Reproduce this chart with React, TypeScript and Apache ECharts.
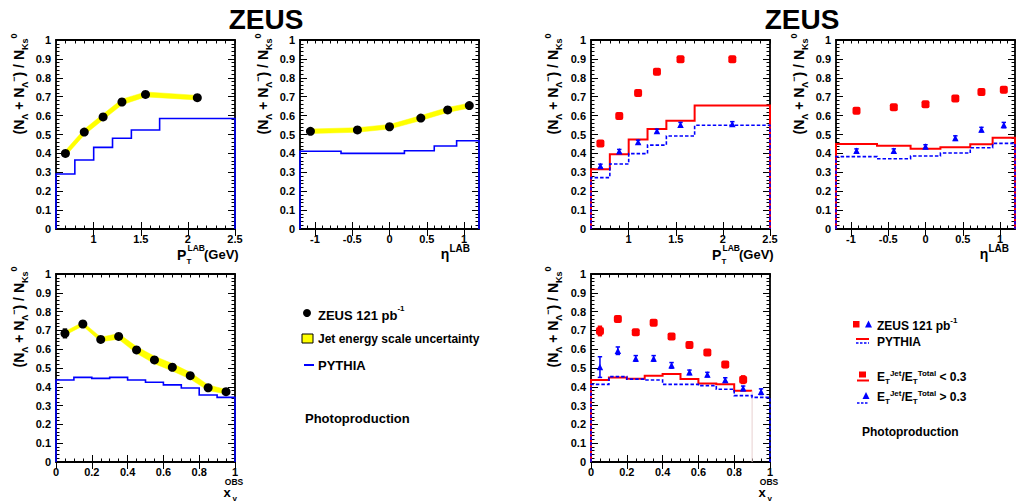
import React, { useEffect, useRef } from 'react';
import * as echarts from 'echarts';

const FONT = '"Liberation Sans", Arial, Helvetica, sans-serif';

// ---------- Panel 1: pT (inclusive) ----------
const ptEdges = [0.6, 0.8, 1.0, 1.2, 1.4, 1.7, 2.5];
const ptCenters = [0.7, 0.9, 1.1, 1.3, 1.55, 2.1];
const ptZeus = [0.4, 0.513, 0.593, 0.672, 0.712, 0.695];
const ptZeusErr = [0.01, 0.01, 0.01, 0.01, 0.01, 0.01];
const ptJes = [0.015, 0.015, 0.015, 0.015, 0.013, 0.012];
const ptPythia = [0.291, 0.365, 0.432, 0.48, 0.524, 0.585];

// ---------- Panel 2: eta (inclusive) ----------
const etaEdges = [-1.2, -0.65, -0.2, 0.2, 0.6, 0.9, 1.2];
const etaCentersIncl = [-1.06, -0.43, 0.0, 0.42, 0.78, 1.07];
const etaZeus = [0.517, 0.524, 0.541, 0.587, 0.63, 0.653];
const etaZeusErr = [0.01, 0.01, 0.01, 0.01, 0.01, 0.01];
const etaJes = [0.012, 0.012, 0.012, 0.013, 0.013, 0.013];
const etaPythia = [0.411, 0.4, 0.4, 0.414, 0.439, 0.467];

// ---------- Panel 3: x_gamma (inclusive) ----------
const xgEdges = [0, 0.1, 0.2, 0.3, 0.4, 0.5, 0.6, 0.7, 0.8, 0.9, 1.0];
const xgCenters = [0.05, 0.15, 0.25, 0.35, 0.45, 0.55, 0.65, 0.75, 0.85, 0.95];
const xgZeus = [0.684, 0.734, 0.652, 0.668, 0.596, 0.543, 0.504, 0.459, 0.395, 0.374];
const xgZeusErr = [0.023, 0.012, 0.01, 0.01, 0.01, 0.01, 0.01, 0.01, 0.01, 0.012];
const xgJes = [0.01, 0.01, 0.012, 0.015, 0.018, 0.02, 0.02, 0.018, 0.015, 0.012];
const xgPythia = [0.436, 0.45, 0.445, 0.45, 0.436, 0.424, 0.41, 0.394, 0.356, 0.344];

// ---------- Panel 4: pT split by ET fraction ----------
const ptLowFrac = [0.453, 0.598, 0.72, 0.832, 0.898, 0.898];
const ptLowFracErr = [0.012, 0.012, 0.012, 0.014, 0.014, 0.014];
const ptHighFrac = [0.333, 0.411, 0.46, 0.518, 0.552, 0.556];
const ptHighFracErr = [0.01, 0.01, 0.01, 0.01, 0.012, 0.012];
const ptPythiaLow = [0.316, 0.395, 0.473, 0.529, 0.573, 0.653];
const ptPythiaHigh = [0.272, 0.344, 0.399, 0.444, 0.492, 0.549];

// ---------- Panel 5: eta split ----------
const etaCentersSplit = [-0.925, -0.425, 0.0, 0.4, 0.75, 1.05];
const etaLowFrac = [0.626, 0.644, 0.66, 0.69, 0.725, 0.737];
const etaLowFracErr = [0.012, 0.012, 0.012, 0.012, 0.012, 0.014];
const etaHighFrac = [0.414, 0.414, 0.436, 0.481, 0.526, 0.55];
const etaHighFracErr = [0.01, 0.01, 0.01, 0.012, 0.012, 0.014];
const etaPythiaLow = [0.45, 0.441, 0.425, 0.432, 0.448, 0.483];
const etaPythiaHigh = [0.383, 0.372, 0.386, 0.402, 0.43, 0.453];

// ---------- Panel 6: x_gamma split ----------
const xgLowEdges = [0, 0.1, 0.2, 0.3, 0.4, 0.5, 0.6, 0.7, 0.8, 0.9];
const xgLowCenters = [0.05, 0.15, 0.25, 0.35, 0.45, 0.55, 0.65, 0.75, 0.85];
const xgLowFrac = [0.697, 0.76, 0.69, 0.741, 0.668, 0.622, 0.583, 0.518, 0.438];
const xgLowFracErr = [0.025, 0.012, 0.01, 0.01, 0.012, 0.012, 0.012, 0.015, 0.02];
const xgHighFrac = [0.505, 0.592, 0.551, 0.551, 0.514, 0.477, 0.465, 0.436, 0.392, 0.374];
const xgHighFracErr = [0.055, 0.02, 0.015, 0.015, 0.015, 0.012, 0.012, 0.012, 0.012, 0.015];
const xgPythiaLow = [0.436, 0.449, 0.443, 0.459, 0.468, 0.441, 0.418, 0.413, 0.379];
const xgPythiaHigh = [0.413, 0.454, 0.441, 0.436, 0.413, 0.413, 0.406, 0.387, 0.353, 0.344];

// ---------- Axis tick / label values ----------
const ptTickLabels = [1, 1.5, 2, 2.5];
const etaTickLabels = [-1, -0.5, 0, 0.5, 1];
const xgTickLabels = [0, 0.2, 0.4, 0.6, 0.8, 1];

const GRIDS = [
  { left: 56, top: 40, width: 179, height: 189 },
  { left: 300, top: 40, width: 179, height: 189 },
  { left: 56, top: 274, width: 179, height: 188 },
  { left: 591, top: 40, width: 179, height: 189 },
  { left: 836, top: 40, width: 179, height: 189 },
  { left: 591, top: 274, width: 179, height: 188 },
];

const SPECS = [
  { min: 0.6, max: 2.5, minor: 0.1, labels: ptTickLabels },
  { min: -1.2, max: 1.2, minor: 0.1, labels: etaTickLabels },
  { min: 0, max: 1, minor: 0.05, labels: xgTickLabels },
  { min: 0.6, max: 2.5, minor: 0.1, labels: ptTickLabels },
  { min: -1.2, max: 1.2, minor: 0.1, labels: etaTickLabels },
  { min: 0, max: 1, minor: 0.05, labels: xgTickLabels },
];

const BLUE = '#0000ff';
const RED = '#ff0000';
const YELLOW = '#ffff00';

function fmt(v: number) {
  const r = Math.round(v * 100) / 100;
  return String(r === 0 ? 0 : r);
}

function histPoints(edges: number[], vals: number[], closeLeft = true, closeRight = true) {
  const pts: number[][] = [];
  if (closeLeft) pts.push([edges[0], 0]);
  vals.forEach((v, i) => {
    pts.push([edges[i], v]);
    pts.push([edges[i + 1], v]);
  });
  if (closeRight) pts.push([edges[vals.length], 0]);
  return pts;
}

const axIdx = (gi: number) => ({ xAxisIndex: gi * 4, yAxisIndex: gi * 2 });

function histSeries(gi: number, edges: number[], vals: number[], color: string, width: number, dashed: boolean, closeRight = true) {
  return {
    type: 'line',
    ...axIdx(gi),
    data: histPoints(edges, vals, true, closeRight),
    symbol: 'none',
    silent: true,
    z: 3,
    lineStyle: { color, width, type: dashed ? [3.5, 2] : 'solid', cap: 'butt', join: 'miter' },
  };
}

function scatterSeries(gi: number, xs: number[], ys: number[], symbol: string, size: number, color: string) {
  return {
    type: 'scatter',
    ...axIdx(gi),
    data: xs.slice(0, ys.length).map((x, i) => [x, ys[i]]),
    symbol,
    symbolSize: size,
    silent: true,
    z: 6,
    itemStyle: { color, opacity: 1 },
  };
}

function errSeries(gi: number, xs: number[], ys: number[], errs: number[], color: string) {
  return {
    type: 'custom',
    ...axIdx(gi),
    data: ys.map((y, i) => [xs[i], y - errs[i], y + errs[i]]),
    encode: { x: 0, y: [1, 2] },
    silent: true,
    z: 5,
    renderItem: (_p: any, api: any) => {
      const lo = api.coord([api.value(0), api.value(1)]);
      const hi = api.coord([api.value(0), api.value(2)]);
      const st = { stroke: color, lineWidth: 1.5 };
      return {
        type: 'group',
        children: [
          { type: 'line', shape: { x1: lo[0], y1: lo[1], x2: hi[0], y2: hi[1] }, style: st },
          { type: 'line', shape: { x1: lo[0] - 2.2, y1: lo[1], x2: lo[0] + 2.2, y2: lo[1] }, style: st },
          { type: 'line', shape: { x1: hi[0] - 2.2, y1: hi[1], x2: hi[0] + 2.2, y2: hi[1] }, style: st },
        ],
      };
    },
  };
}

function bandSeries(gi: number, xs: number[], ys: number[], half: number[]) {
  return {
    type: 'custom',
    ...axIdx(gi),
    data: ys.map((y, i) => [xs[i], y - half[i], y + half[i]]),
    encode: { x: 0, y: [1, 2] },
    silent: true,
    z: 2,
    renderItem: (params: any, api: any) => {
      if (params.dataIndex !== 0) return null;
      const up = ys.map((y, i) => api.coord([xs[i], y + half[i]]));
      const lo = ys.map((y, i) => api.coord([xs[i], y - half[i]])).reverse();
      return {
        type: 'polygon',
        shape: { points: up.concat(lo) },
        style: { fill: YELLOW, stroke: YELLOW, lineWidth: 0.5 },
      };
    },
  };
}

function txt(x: number, y: number, text: string, size: number, align = 'left', lineHeight?: number) {
  const style: any = {
    text,
    fill: '#000',
    fontSize: size,
    fontWeight: 'bold',
    fontFamily: FONT,
    align,
    textAlign: align,
    verticalAlign: 'middle',
    textVerticalAlign: 'middle',
  };
  if (lineHeight) style.lineHeight = lineHeight;
  return { type: 'text', x, y, silent: true, z: 10, style };
}

const richBase = (size: number, lh: number, va: string) => ({
  fontSize: size,
  fontWeight: 'bold',
  fontFamily: FONT,
  lineHeight: lh,
  verticalAlign: va,
  fill: '#000',
  color: '#000',
});

const yNameRich = {
  m: richBase(14, 20, 'middle'),
  s: richBase(9, 10, 'bottom'),
  p: richBase(9, 8, 'top'),
};
const yNameText = '{m|(N}{s|Λ}{m| + N}{s|Λ}{p|−}{m|) / N}{s|Ks}{p|0}';

function buildOption() {
  const xAxes: any[] = [];
  const yAxes: any[] = [];
  const lineBlack = { color: '#000', width: 1.8 };
  const tickStyle = { color: '#000', width: 1 };
  GRIDS.forEach((_g, gi) => {
    const s = SPECS[gi];
    const base = { gridIndex: gi, type: 'value', min: s.min, max: s.max, splitLine: { show: false } };
    xAxes.push({
      ...base,
      position: 'bottom',
      interval: s.minor,
      axisLine: { show: true, onZero: false, lineStyle: lineBlack },
      axisTick: { show: true, inside: true, length: 3.5, lineStyle: tickStyle },
      axisLabel: {
        show: true,
        customValues: s.labels,
        margin: 4,
        color: '#000',
        fontSize: 11,
        fontWeight: 'bold',
        fontFamily: FONT,
        lineHeight: 11,
        formatter: (v: number) => fmt(v),
      },
    });
    xAxes.push({
      ...base,
      position: 'bottom',
      axisLine: { show: false },
      axisTick: { show: true, inside: true, length: 7, customValues: s.labels, lineStyle: tickStyle },
      axisLabel: { show: false },
    });
    xAxes.push({
      ...base,
      position: 'top',
      interval: s.minor,
      axisLine: { show: true, onZero: false, lineStyle: lineBlack },
      axisTick: { show: true, inside: true, length: 3.5, lineStyle: tickStyle },
      axisLabel: { show: false },
    });
    xAxes.push({
      ...base,
      position: 'top',
      axisLine: { show: false },
      axisTick: { show: true, inside: true, length: 7, customValues: s.labels, lineStyle: tickStyle },
      axisLabel: { show: false },
    });
    const ybase = {
      gridIndex: gi,
      type: 'value',
      min: 0,
      max: 1,
      interval: 0.1,
      splitLine: { show: false },
      axisLine: { show: true, onZero: false, lineStyle: lineBlack },
      axisTick: { show: true, inside: true, length: 7, lineStyle: tickStyle },
      minorTick: { show: true, splitNumber: 5, length: 3.5, lineStyle: tickStyle },
    };
    yAxes.push({
      ...ybase,
      position: 'left',
      axisLabel: {
        show: true,
        margin: 5,
        color: '#000',
        fontSize: 11,
        fontWeight: 'bold',
        fontFamily: FONT,
        formatter: (v: number) => fmt(v),
      },
    });
    yAxes.push({ ...ybase, position: 'right', axisLabel: { show: false } });
  });

  const series: any[] = [
    // Panel 1
    bandSeries(0, ptCenters, ptZeus, ptJes),
    histSeries(0, ptEdges, ptPythia, BLUE, 1.6, false),
    errSeries(0, ptCenters, ptZeus, ptZeusErr, '#000'),
    scatterSeries(0, ptCenters, ptZeus, 'circle', 9, '#000'),
    // Panel 2
    bandSeries(1, etaCentersIncl, etaZeus, etaJes),
    histSeries(1, etaEdges, etaPythia, BLUE, 1.6, false),
    errSeries(1, etaCentersIncl, etaZeus, etaZeusErr, '#000'),
    scatterSeries(1, etaCentersIncl, etaZeus, 'circle', 9, '#000'),
    // Panel 3
    bandSeries(2, xgCenters, xgZeus, xgJes),
    histSeries(2, xgEdges, xgPythia, BLUE, 1.6, false),
    errSeries(2, xgCenters, xgZeus, xgZeusErr, '#000'),
    scatterSeries(2, xgCenters, xgZeus, 'circle', 9, '#000'),
    // Panel 4
    histSeries(3, ptEdges, ptPythiaLow, RED, 2, false),
    histSeries(3, ptEdges, ptPythiaHigh, BLUE, 1.6, true),
    errSeries(3, ptCenters, ptLowFrac, ptLowFracErr, RED),
    errSeries(3, ptCenters, ptHighFrac, ptHighFracErr, BLUE),
    scatterSeries(3, ptCenters, ptLowFrac, 'roundRect', 8, RED),
    scatterSeries(3, ptCenters, ptHighFrac, 'triangle', 6.5, BLUE),
    // Panel 5
    histSeries(4, etaEdges, etaPythiaLow, RED, 2, false),
    histSeries(4, etaEdges, etaPythiaHigh, BLUE, 1.6, true),
    errSeries(4, etaCentersSplit, etaLowFrac, etaLowFracErr, RED),
    errSeries(4, etaCentersSplit, etaHighFrac, etaHighFracErr, BLUE),
    scatterSeries(4, etaCentersSplit, etaLowFrac, 'roundRect', 8, RED),
    scatterSeries(4, etaCentersSplit, etaHighFrac, 'triangle', 6.5, BLUE),
    // Panel 6
    histSeries(5, xgLowEdges, xgPythiaLow, RED, 2, false, false),
    {
      type: 'line',
      ...axIdx(5),
      data: [
        [xgLowEdges[xgLowEdges.length - 1], xgPythiaLow[xgPythiaLow.length - 1]],
        [xgLowEdges[xgLowEdges.length - 1], 0],
      ],
      symbol: 'none',
      silent: true,
      z: 3,
      lineStyle: { color: '#e8d0d0', width: 1 },
    },
    histSeries(5, xgEdges, xgPythiaHigh, BLUE, 1.6, true),
    errSeries(5, xgLowCenters, xgLowFrac, xgLowFracErr, RED),
    errSeries(5, xgCenters, xgHighFrac, xgHighFracErr, BLUE),
    scatterSeries(5, xgLowCenters, xgLowFrac, 'roundRect', 8, RED),
    scatterSeries(5, xgCenters, xgHighFrac, 'triangle', 6.5, BLUE),
  ];

  const graphic: any[] = [];
  // Titles
  graphic.push(txt(266, 19, 'ZEUS', 28, 'center'));
  graphic.push(txt(802, 19, 'ZEUS', 28, 'center'));

  // Y axis names
  const yNamePos = [
    [19, 84],
    [263, 84],
    [19, 317],
    [553, 84],
    [799, 84],
    [553, 317],
  ];
  yNamePos.forEach(([x, y]) => {
    graphic.push({
      type: 'text',
      x,
      y,
      rotation: Math.PI / 2,
      silent: true,
      z: 10,
      style: {
        text: yNameText,
        rich: yNameRich,
        fill: '#000',
        fontSize: 14,
        fontWeight: 'bold',
        fontFamily: FONT,
        align: 'center',
        textAlign: 'center',
        verticalAlign: 'middle',
        textVerticalAlign: 'middle',
      },
    });
  });

  // X axis names: pT
  [0, 535].forEach((dx) => {
    graphic.push(txt(177 + dx, 255, 'P', 14, 'left', 11));
    graphic.push(txt(186.5 + dx, 261.5, 'T', 8, 'left', 6));
    graphic.push(txt(187.5 + dx, 247.5, 'LAB', 8.5, 'left', 6));
    graphic.push(txt(204 + dx, 254.5, '(GeV)', 13, 'left', 11));
  });
  // eta
  [
    [445, 449.5],
    [984, 988.5],
  ].forEach(([ex, lx]) => {
    graphic.push(txt(ex, 253.5, 'η', 14, 'center', 10));
    graphic.push(txt(lx, 248.5, 'LAB', 10, 'left', 7));
  });
  // x_gamma
  [0, 535].forEach((dx) => {
    graphic.push(txt(234 + dx, 481.5, 'OBS', 8.5, 'center', 7));
    graphic.push(txt(227 + dx, 492.5, 'x', 13, 'center', 8));
    graphic.push(txt(232.5 + dx, 498, 'γ', 8, 'left', 6));
  });

  // Left legend
  graphic.push({ type: 'circle', shape: { cx: 307, cy: 313, r: 4 }, style: { fill: '#000' }, silent: true });
  graphic.push({
    type: 'text',
    x: 318,
    y: 313,
    silent: true,
    style: {
      text: '{a|ZEUS 121 pb}{s|-1}',
      rich: { a: richBase(13, 17, 'bottom'), s: richBase(8, 8, 'top') },
      align: 'left',
      textAlign: 'left',
      verticalAlign: 'middle',
      textVerticalAlign: 'middle',
    },
  });
  graphic.push({
    type: 'rect',
    shape: { x: 302, y: 334, width: 11, height: 9 },
    style: { fill: YELLOW, stroke: '#000', lineWidth: 1 },
    silent: true,
  });
  graphic.push(txt(318, 338.5, 'Jet energy scale uncertainty', 12));
  graphic.push({
    type: 'line',
    shape: { x1: 304, y1: 365, x2: 314, y2: 365 },
    style: { stroke: BLUE, lineWidth: 2 },
    silent: true,
  });
  graphic.push(txt(318, 365, 'PYTHIA', 13));
  graphic.push(txt(305, 418, 'Photoproduction', 13));

  // Right legend
  graphic.push({ type: 'rect', shape: { x: 853, y: 321, width: 6.5, height: 6.5 }, style: { fill: RED }, silent: true });
  graphic.push({
    type: 'polygon',
    shape: { points: [[868.5, 320.5], [865, 327.5], [872, 327.5]] },
    style: { fill: BLUE },
    silent: true,
  });
  graphic.push({
    type: 'text',
    x: 877,
    y: 324,
    silent: true,
    style: {
      text: '{a|ZEUS 121 pb}{s|-1}',
      rich: { a: richBase(12, 16, 'bottom'), s: richBase(8, 8, 'top') },
      align: 'left',
      textAlign: 'left',
      verticalAlign: 'middle',
      textVerticalAlign: 'middle',
    },
  });
  graphic.push({ type: 'line', shape: { x1: 856, y1: 339, x2: 869, y2: 339 }, style: { stroke: RED, lineWidth: 2 }, silent: true });
  graphic.push({
    type: 'line',
    shape: { x1: 856, y1: 343, x2: 869, y2: 343 },
    style: { stroke: BLUE, lineWidth: 1.6, lineDash: [2.5, 1.5] },
    silent: true,
  });
  graphic.push(txt(877, 342, 'PYTHIA', 12));
  const etRich = {
    e: richBase(12, 16, 'middle'),
    b: richBase(8, 8, 'bottom'),
    t: richBase(8, 8, 'top'),
  };
  graphic.push({ type: 'rect', shape: { x: 859, y: 371.5, width: 7, height: 6 }, style: { fill: RED }, silent: true });
  graphic.push({ type: 'line', shape: { x1: 857, y1: 380.5, x2: 869, y2: 380.5 }, style: { stroke: RED, lineWidth: 2 }, silent: true });
  graphic.push({
    type: 'text',
    x: 877,
    y: 377,
    silent: true,
    style: {
      text: '{e|E}{b|T}{t|Jet}{e|/E}{b|T}{t|Total}{e| < 0.3}',
      rich: etRich,
      align: 'left',
      textAlign: 'left',
      verticalAlign: 'middle',
      textVerticalAlign: 'middle',
    },
  });
  graphic.push({
    type: 'polygon',
    shape: { points: [[866, 392], [862.5, 399], [869.5, 399]] },
    style: { fill: BLUE },
    silent: true,
  });
  graphic.push({
    type: 'line',
    shape: { x1: 857, y1: 403, x2: 869, y2: 403 },
    style: { stroke: BLUE, lineWidth: 1.6, lineDash: [2.5, 1.5] },
    silent: true,
  });
  graphic.push({
    type: 'text',
    x: 877,
    y: 397,
    silent: true,
    style: {
      text: '{e|E}{b|T}{t|Jet}{e|/E}{b|T}{t|Total}{e| > 0.3}',
      rich: etRich,
      align: 'left',
      textAlign: 'left',
      verticalAlign: 'middle',
      textVerticalAlign: 'middle',
    },
  });
  graphic.push(txt(862, 432, 'Photoproduction', 12));

  return {
    animation: false,
    backgroundColor: '#ffffff',
    textStyle: { fontFamily: FONT },
    grid: GRIDS.map((g) => ({ ...g, containLabel: false, show: false })),
    xAxis: xAxes,
    yAxis: yAxes,
    series,
    graphic: { elements: graphic },
  };
}

export default function App() {
  const ref = useRef<HTMLDivElement>(null);
  useEffect(() => {
    if (!ref.current) return;
    const chart = echarts.init(ref.current, null, { renderer: 'svg' });
    chart.setOption(buildOption() as any);
    return () => chart.dispose();
  }, []);
  return (
    <div
      ref={ref}
      style={{ position: 'absolute', left: 0, top: 0, width: 1016, height: 501, background: '#fff' }}
    />
  );
}
